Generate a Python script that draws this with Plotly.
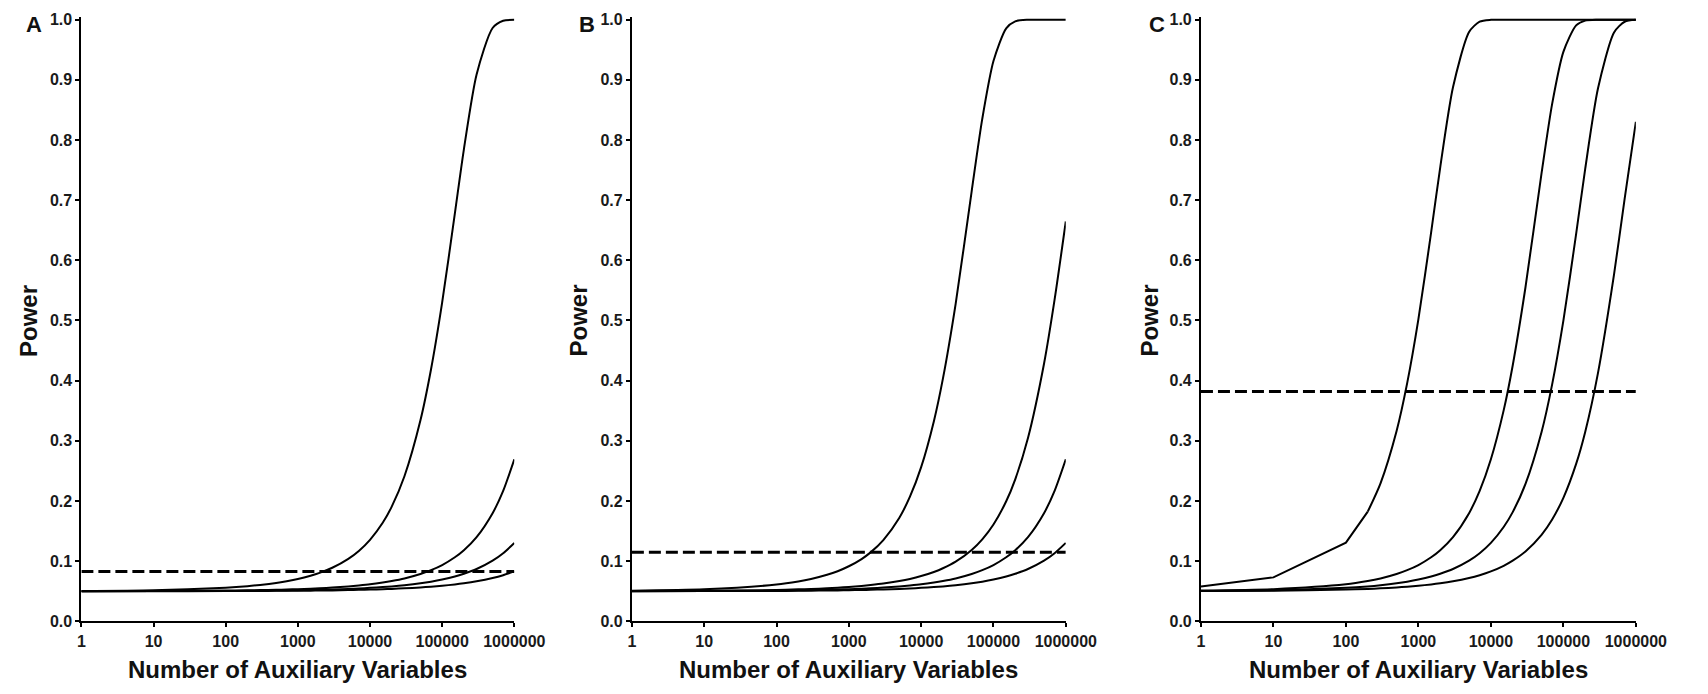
import plotly.graph_objects as go

# ---------------- data ----------------
n_aux = [1, 10, 100, 200, 300, 500, 700, 1000, 1500, 2000, 3000, 5000, 7000,
         10000, 15000, 20000, 30000, 50000, 70000, 100000, 150000, 200000,
         300000, 500000, 700000, 1000000]

# Panel A
a_curve1 = [0.0505, 0.0518, 0.0559, 0.0584, 0.0605, 0.0638, 0.0667, 0.0704, 0.0758, 0.0805,
            0.0890, 0.1038, 0.1170, 0.1355, 0.1638, 0.1906, 0.2411, 0.3341, 0.4185, 0.5300,
            0.6779, 0.7846, 0.9090, 0.9862, 0.9982, 0.9999]
a_curve2 = [0.0501, 0.0503, 0.0511, 0.0515, 0.0519, 0.0524, 0.0529, 0.0535, 0.0542, 0.0549,
            0.0561, 0.0580, 0.0596, 0.0615, 0.0644, 0.0669, 0.0712, 0.0786, 0.0850, 0.0935,
            0.1064, 0.1181, 0.1399, 0.1797, 0.2168, 0.2693]
a_curve3 = [0.0500, 0.0502, 0.0505, 0.0507, 0.0509, 0.0512, 0.0514, 0.0517, 0.0521, 0.0524,
            0.0530, 0.0539, 0.0546, 0.0556, 0.0569, 0.0580, 0.0600, 0.0632, 0.0659, 0.0694,
            0.0744, 0.0790, 0.0869, 0.1008, 0.1132, 0.1303]
a_curve4 = [0.0500, 0.0501, 0.0502, 0.0504, 0.0504, 0.0506, 0.0507, 0.0508, 0.0510, 0.0512,
            0.0514, 0.0519, 0.0523, 0.0527, 0.0534, 0.0539, 0.0548, 0.0563, 0.0575, 0.0591,
            0.0613, 0.0632, 0.0665, 0.0720, 0.0767, 0.0830]
a_dashed = 0.083

# Panel B
b_curve1 = [0.0510, 0.0533, 0.0611, 0.0662, 0.0703, 0.0773, 0.0833, 0.0915, 0.1035, 0.1146,
            0.1351, 0.1723, 0.2071, 0.2562, 0.3327, 0.4033, 0.5278, 0.7152, 0.8351, 0.9313,
            0.9857, 0.9973, 0.9999, 1.0, 1.0, 1.0]
b_curve2 = [0.0502, 0.0507, 0.0521, 0.0531, 0.0538, 0.0549, 0.0559, 0.0571, 0.0588, 0.0603,
            0.0628, 0.0670, 0.0705, 0.0752, 0.0820, 0.0882, 0.0991, 0.1186, 0.1363, 0.1610,
            0.1995, 0.2360, 0.3046, 0.4281, 0.5346, 0.6646]
b_curve3 = [0.0501, 0.0503, 0.0511, 0.0515, 0.0519, 0.0524, 0.0529, 0.0535, 0.0542, 0.0549,
            0.0561, 0.0580, 0.0596, 0.0615, 0.0644, 0.0669, 0.0712, 0.0786, 0.0850, 0.0935,
            0.1064, 0.1181, 0.1399, 0.1797, 0.2168, 0.2693]
b_curve4 = [0.0500, 0.0502, 0.0505, 0.0507, 0.0509, 0.0512, 0.0514, 0.0517, 0.0521, 0.0524,
            0.0530, 0.0539, 0.0546, 0.0556, 0.0569, 0.0580, 0.0600, 0.0632, 0.0659, 0.0694,
            0.0744, 0.0790, 0.0869, 0.1008, 0.1132, 0.1303]
b_dashed = 0.115

# Panel C
c_curve1 = [0.058, 0.073, 0.1307, 0.1823, 0.2294, 0.3164, 0.3959, 0.5023, 0.6468, 0.7547,
            0.8876, 0.9796, 0.9968, 0.9998, 1.0, 1.0, 1.0, 1.0, 1.0, 1.0,
            1.0, 1.0, 1.0, 1.0, 1.0, 1.0]
c_curve2 = [0.0511, 0.0535, 0.0615, 0.0669, 0.0712, 0.0786, 0.0850, 0.0935, 0.1064, 0.1181,
            0.1399, 0.1797, 0.2168, 0.2693, 0.3506, 0.4253, 0.5553, 0.7448, 0.8600, 0.9466,
            0.9905, 0.9985, 1.0, 1.0, 1.0, 1.0]
c_curve3 = [0.0505, 0.0517, 0.0556, 0.0580, 0.0600, 0.0632, 0.0659, 0.0694, 0.0744, 0.0790,
            0.0869, 0.1008, 0.1132, 0.1303, 0.1567, 0.1815, 0.2283, 0.3148, 0.3939, 0.4998,
            0.6439, 0.7519, 0.8855, 0.9789, 0.9966, 0.9998]
c_curve4 = [0.0502, 0.0508, 0.0527, 0.0539, 0.0548, 0.0563, 0.0575, 0.0591, 0.0613, 0.0632,
            0.0665, 0.0720, 0.0767, 0.0830, 0.0923, 0.1008, 0.1161, 0.1438, 0.1693, 0.2053,
            0.2617, 0.3148, 0.4126, 0.5767, 0.7020, 0.8302]
c_dashed = 0.382

panel_labels = ["A", "B", "C"]
x_tickvals = [1, 10, 100, 1000, 10000, 100000, 1000000]
x_ticktext = ["1", "10", "100", "1000", "10000", "100000", "1000000"]
y_tickvals = [0.0, 0.1, 0.2, 0.3, 0.4, 0.5, 0.6, 0.7, 0.8, 0.9, 1.0]
y_ticktext = ["0.0", "0.1", "0.2", "0.3", "0.4", "0.5", "0.6", "0.7", "0.8", "0.9", "1.0"]
x_title = "Number of Auxiliary Variables"
y_title = "Power"

# ---------------- layout geometry ----------------
W, H = 1708, 694
FONT = "Liberation Sans, Arial, Helvetica, sans-serif"
y_top_val = 1.005
y_px_one, y_px_zero = 15, 629
y_px_top = y_px_zero - (y_px_zero - y_px_one) * y_top_val
y_domain = [1 - y_px_zero / H, 1 - y_px_top / H]
x_px = [(79, 521), (641, 1084), (1222, 1666)]
power_x = [25, 587, 1169]
letter_x = [31, 595, 1177]

# (curves, dashed level, number of leading points drawn as straight segments)
panels = [
    ([(a_curve1, 0), (a_curve2, 0), (a_curve3, 0), (a_curve4, 0)], a_dashed),
    ([(b_curve1, 0), (b_curve2, 0), (b_curve3, 0), (b_curve4, 0)], b_dashed),
    ([(c_curve1, 4), (c_curve2, 0), (c_curve3, 0), (c_curve4, 0)], c_dashed),
]

fig = go.Figure()
annotations = []
for i, (curves, dashed) in enumerate(panels):
    sfx = "" if i == 0 else str(i + 1)
    xa, ya = "x" + sfx, "y" + sfx
    for ys, n_lin in curves:
        if n_lin:
            fig.add_trace(go.Scatter(x=n_aux[:n_lin], y=ys[:n_lin], mode="lines",
                                     xaxis=xa, yaxis=ya,
                                     line=dict(color="black", width=2, shape="linear"),
                                     showlegend=False, hoverinfo="skip"))
            start = n_lin - 1
        else:
            start = 0
        fig.add_trace(go.Scatter(x=n_aux[start:], y=ys[start:], mode="lines",
                                 xaxis=xa, yaxis=ya,
                                 line=dict(color="black", width=2, shape="spline",
                                           smoothing=0.7),
                                 showlegend=False, hoverinfo="skip"))
    fig.add_trace(go.Scatter(x=[n_aux[0], n_aux[-1]], y=[dashed, dashed], mode="lines",
                             xaxis=xa, yaxis=ya, showlegend=False, hoverinfo="skip",
                             line=dict(color="black", width=3, dash="12px,5px")))
    x0, x1 = x_px[i]
    fig.layout["xaxis" + sfx] = dict(
        domain=[x0 / W, x1 / W], anchor=ya, type="log", range=[0, 6],
        tickvals=x_tickvals, ticktext=x_ticktext, showgrid=False, zeroline=False,
        showline=True, linecolor="black", linewidth=2, ticks="outside", ticklen=4,
        tickwidth=1.5, tickcolor="black",
        tickfont=dict(family=FONT, size=16, color="#1a1a1a", weight="bold"))
    fig.layout["yaxis" + sfx] = dict(
        domain=y_domain, anchor=xa, range=[0, y_top_val],
        tickvals=y_tickvals, ticktext=y_ticktext, showgrid=False, zeroline=False,
        showline=True, linecolor="black", linewidth=2, ticks="outside", ticklen=4,
        tickwidth=1.5, tickcolor="black",
        tickfont=dict(family=FONT, size=16, color="#1a1a1a", weight="bold"))
    annotations.append(dict(text=x_title, xref="paper", yref="paper",
                            x=(x0 + x1) / 2 / W, y=1 - 678 / H, xanchor="center",
                            yanchor="middle", showarrow=False,
                            font=dict(family=FONT, size=24, color="#111", weight="bold")))
    annotations.append(dict(text=y_title, xref="paper", yref="paper", textangle=-90,
                            x=power_x[i] / W, y=1 - 322 / H, xanchor="center",
                            yanchor="middle", showarrow=False,
                            font=dict(family=FONT, size=24, color="#111", weight="bold")))
    annotations.append(dict(text=panel_labels[i], xref="paper", yref="paper",
                            x=letter_x[i] / W, y=1 - 20 / H, xanchor="center",
                            yanchor="middle", showarrow=False,
                            font=dict(family=FONT, size=22, color="#111", weight="bold")))

fig.update_layout(width=W, height=H, margin=dict(l=0, r=0, t=0, b=0),
                  paper_bgcolor="white", plot_bgcolor="white",
                  annotations=annotations, showlegend=False)

fig.write_html("out.html", config={"displayModeBar": False})
